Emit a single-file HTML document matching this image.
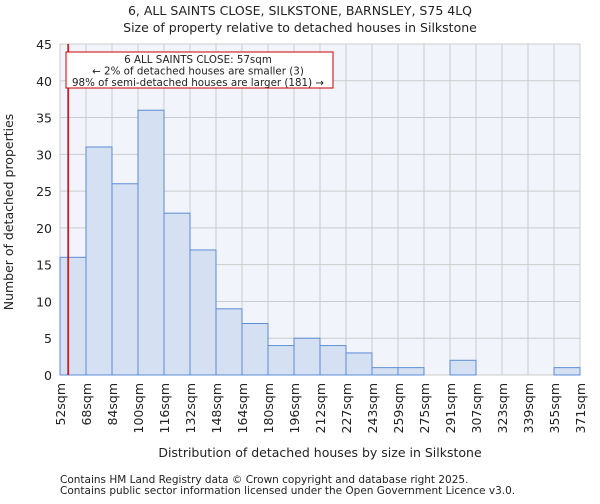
<!DOCTYPE html>
<html><head><meta charset="utf-8"><style>
body{margin:0;background:#fff;font-family:"DejaVu Sans","Liberation Sans",sans-serif;}
svg text{font-family:"DejaVu Sans","Liberation Sans",sans-serif;fill:#222;}
</style></head><body>
<svg id="chart" width="600" height="500">
<text x="300" y="15" text-anchor="middle" font-size="12.5">6, ALL SAINTS CLOSE, SILKSTONE, BARNSLEY, S75 4LQ</text>
<text x="300" y="32" text-anchor="middle" font-size="12.5">Size of property relative to detached houses in Silkstone</text>
<rect x="60" y="44" width="520" height="331" fill="#f1f4fb"/>
<g id="grid"></g>
<g id="bars"></g>
<g id="ticks"></g>
<text x="0" y="0" transform="translate(13,212) rotate(-90)" text-anchor="middle" font-size="12.5">Number of detached properties</text>
<text x="320" y="457" text-anchor="middle" font-size="12.5">Distribution of detached houses by size in Silkstone</text>
<text x="60" y="483" font-size="10.5" fill="#555">Contains HM Land Registry data © Crown copyright and database right 2025.</text>
<text x="60" y="494" font-size="10.5" fill="#555">Contains public sector information licensed under the Open Government Licence v3.0.</text>
<g id="marker"></g>
<rect x="66" y="52" width="267" height="36" fill="#fff" stroke="#cc0000" stroke-width="1"/>
<text x="198" y="63" text-anchor="middle" font-size="10.3">6 ALL SAINTS CLOSE: 57sqm</text>
<text x="198" y="74.5" text-anchor="middle" font-size="10.3">← 2% of detached houses are smaller (3)</text>
<text x="198" y="86" text-anchor="middle" font-size="10.3">98% of semi-detached houses are larger (181) →</text>
</svg>
<script>
const binLabels=["52sqm","68sqm","84sqm","100sqm","116sqm","132sqm","148sqm","164sqm","180sqm","196sqm","212sqm","227sqm","243sqm","259sqm","275sqm","291sqm","307sqm","323sqm","339sqm","355sqm","371sqm"];
const counts=[16,31,26,36,22,17,9,7,4,5,4,3,1,1,0,2,0,0,0,1];
const yTicks=[0,5,10,15,20,25,30,35,40,45];
const markerSize=57;
const binStart=52, binStep=16;
const NS="http://www.w3.org/2000/svg";
const X0=60,X1=580,Y0=375,Y1=44,YMAX=45;
const bw=(X1-X0)/counts.length;
function xs(i){return X0+i*bw;}
function ys(v){return Y0-(v/YMAX)*(Y0-Y1);}
function mk(tag,attrs,parent){const e=document.createElementNS(NS,tag);for(const k in attrs)e.setAttribute(k,attrs[k]);document.getElementById(parent).appendChild(e);return e;}
yTicks.forEach(t=>{
 const l=mk('line',{x1:X0,x2:X1,y1:ys(t),y2:ys(t),stroke:'#cccccc','stroke-width':1},'grid');
 
 
 const tx=mk('text',{x:X0-8,y:ys(t)+5,'text-anchor':'end','font-size':12.5},'ticks');
 tx.textContent=t;
 
 
});
binLabels.forEach((lab,i)=>{
 const l=mk('line',{x1:xs(i),x2:xs(i),y1:Y1,y2:Y0,stroke:'#cccccc','stroke-width':1},'grid');
 
 
 const tx=mk('text',{x:0,y:0,transform:`translate(${xs(i)+5},${Y0+8}) rotate(-90)`,'text-anchor':'end','font-size':12.5},'ticks');
 tx.textContent=lab;
 
 
});
counts.forEach((c,i)=>{
 if(c<=0)return;
 const r=mk('rect',{x:xs(i),y:ys(c),width:bw,height:Y0-ys(c),fill:'#d6e0f3',stroke:'#5b8dd6','stroke-width':1},'bars');
 
 
});
const mx=X0+(markerSize-binStart)/binStep*bw;
const ml=mk('line',{x1:mx,x2:mx,y1:Y1,y2:Y0,stroke:'#cc0000','stroke-width':1.5},'marker');


</script>
</body></html>
